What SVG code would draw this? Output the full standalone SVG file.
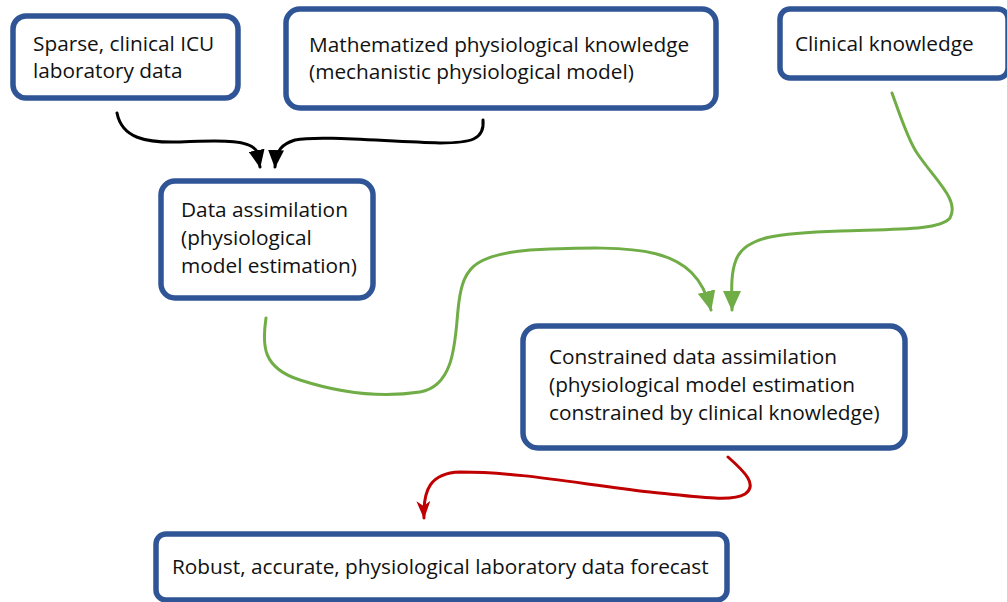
<svg xmlns="http://www.w3.org/2000/svg" width="1007" height="602" viewBox="0 0 1007 602">
<style>
.box{fill:#fff;stroke:#2F5597;stroke-width:5.5;stroke-linejoin:round}
.t{font-family:"Open Sans","Liberation Sans",sans-serif;font-size:20.8px;fill:#111}
.c{fill:none;stroke-width:3;stroke-linecap:round}
.k{stroke:#000}
.g{stroke:#70AD47}
.r{stroke:#C00000}
</style>
<defs>
<marker id="ak" markerUnits="userSpaceOnUse" viewBox="0 0 18 16" markerWidth="18" markerHeight="16" refX="17" refY="8" orient="auto"><path d="M0,0 L18,8 L0,16 z" fill="#000"/></marker>
<marker id="ag" markerUnits="userSpaceOnUse" viewBox="0 0 20 18" markerWidth="20" markerHeight="18" refX="19" refY="9" orient="auto"><path d="M0,0 L20,9 L0,18 z" fill="#70AD47"/></marker>
<marker id="ar" markerUnits="userSpaceOnUse" viewBox="0 0 18 14" markerWidth="18" markerHeight="14" refX="17" refY="7" orient="auto"><path d="M0,0 L18,7 L0,14 L5,7 z" fill="#C00000"/></marker>
</defs>
<g id="connectors">
<path class="c k" marker-end="url(#ak)" d="M117,113 C122,138 145,143 180,142 C225,140 252,140 257,152 L260,167"/>
<path class="c k" marker-end="url(#ak)" d="M483,120 C485,140 470,143 440,143 C390,142 320,135 295,140 C282,144 276,150 275,167"/>
<path class="c g" marker-end="url(#ag)" d="M266,318 C262,345 262,368 300,380 C340,393 380,398 420,392 C455,386 455,340 458,310 C462,270 470,255 530,250 C640,245 695,245 711,310"/>
<path class="c g" marker-end="url(#ag)" d="M892,93 C900,115 908,140 917,153 C935,180 960,200 950,218 C940,230 900,229 840,231 C780,233 745,236 736,260 C730,275 732,295 732,310"/>
<path class="c r" marker-end="url(#ar)" d="M728,457 C745,472 758,485 745,494 C732,502 700,497 650,492 C580,484 520,472 460,472 C430,473 423,490 424,518"/>
</g>
<g id="n-sparse">
<rect class="box" x="13" y="16" width="225" height="82" rx="13"/>
<text class="t" x="33" y="51">Sparse, clinical ICU</text>
<text class="t" x="33" y="78">laboratory data</text>
</g>
<g id="n-math">
<rect class="box" x="286" y="9" width="430" height="99" rx="14"/>
<text class="t" x="309" y="52">Mathematized physiological knowledge</text>
<text class="t" x="309" y="79">(mechanistic physiological model)</text>
</g>
<g id="n-clinical">
<rect class="box" x="780" y="9" width="228" height="69" rx="10"/>
<text class="t" x="795" y="51">Clinical knowledge</text>
</g>
<g id="n-da">
<rect class="box" x="161" y="181" width="212" height="117" rx="14"/>
<text class="t" x="181" y="217">Data assimilation</text>
<text class="t" x="181" y="245">(physiological</text>
<text class="t" x="181" y="273">model estimation)</text>
</g>
<g id="n-cda">
<rect class="box" x="523" y="326" width="382" height="122" rx="15"/>
<text class="t" x="549" y="364">Constrained data assimilation</text>
<text class="t" x="549" y="392">(physiological model estimation</text>
<text class="t" x="549" y="420">constrained by clinical knowledge)</text>
</g>
<g id="n-robust">
<rect class="box" x="156" y="534" width="571" height="66" rx="10"/>
<text class="t" x="172" y="574">Robust, accurate, physiological laboratory data forecast</text>
</g>
</svg>
